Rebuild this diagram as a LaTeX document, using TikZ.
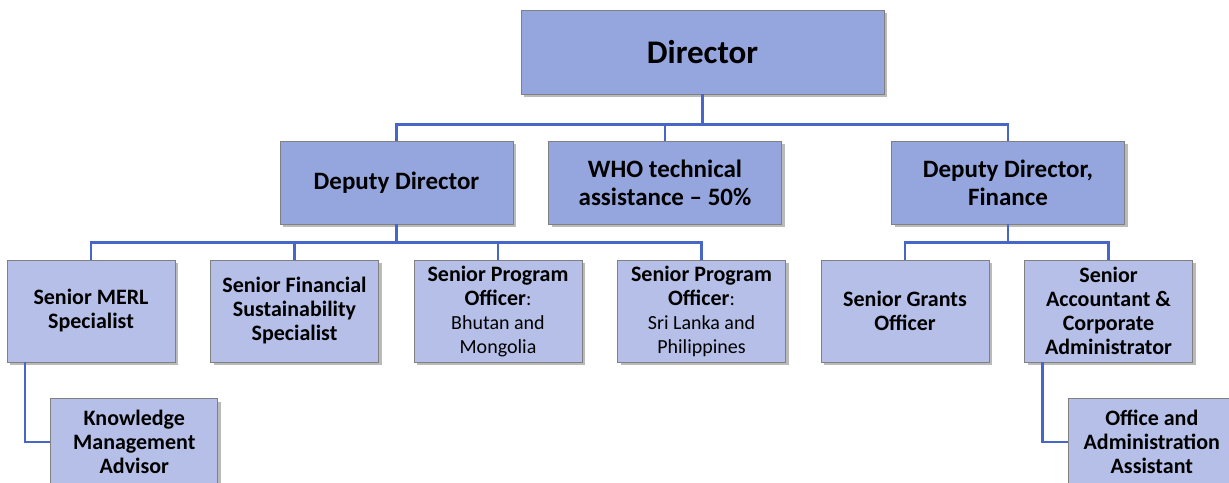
\documentclass[tikz,border=0pt]{standalone}
\usepackage{fontspec}
\setmainfont{Carlito}
\usetikzlibrary{positioning, shadows}
\definecolor{topfill}{RGB}{149,166,222}
\definecolor{lowfill}{RGB}{181,191,232}
\definecolor{linkblue}{RGB}{72,102,200}
\newcommand{\regtext}[1]{{\mdseries\fontsize{20}{23}\selectfont #1}}

\begin{document}
\begin{tikzpicture}[x=1pt, y=-1pt, node distance=34.7pt,
    orgbox/.style={draw=black!50, line width=0.8pt, inner sep=2pt, align=center,
      drop shadow={shadow xshift=3pt, shadow yshift=-3pt, fill=black!45, opacity=.6}},
    topbox/.style={orgbox, fill=topfill, minimum width=233pt, minimum height=83pt,
      font=\fontsize{25}{28}\selectfont\bfseries},
    lowbox/.style={orgbox, fill=lowfill, minimum width=168pt, minimum height=102pt,
      font=\fontsize{22}{24}\selectfont\bfseries},
    link/.style={draw=linkblue, line width=2.5pt}]
  \useasboundingbox (0,0) rectangle (1229,482);

  % top
  \node[topbox, minimum width=363pt, minimum height=84pt, font=\fontsize{33}{36}\selectfont\bfseries]
    (director) at (702.5,52) {Director};

  % second row
  \node[topbox] (dd) at (396.5,182.5) {Deputy Director};
  \node[topbox, right=of dd] (who) {WHO technical\\assistance -- 50\%};
  \node[topbox, right=109.2pt of who] (ddf) {Deputy Director,\\Finance};

  % third row
  \node[lowbox] (merl) at (91,311) {Senior MERL\\Specialist};
  \node[lowbox, right=of merl] (finsust) {Senior Financial\\Sustainability\\Specialist};
  \node[lowbox, right=of finsust] (spobm)
    {Senior Program\\Officer\regtext{:}\\\regtext{Bhutan and}\\\regtext{Mongolia}};
  \node[lowbox, right=of spobm] (sposlp)
    {Senior Program\\Officer\regtext{:}\\\regtext{Sri Lanka and}\\\regtext{Philippines}};
  \node[lowbox, right=of sposlp] (grants) {Senior Grants\\Officer};
  \node[lowbox, right=of grants] (acct) {Senior\\Accountant \&\\Corporate\\Administrator};

  % fourth row
  \node[lowbox, minimum width=167pt, minimum height=86pt, below right=36pt and -125pt of merl]
    (kma) {Knowledge\\Management\\Advisor};
  \node[lowbox, minimum width=167pt, minimum height=86pt, below right=36pt and -125pt of acct]
    (office) {Office and\\Administration\\Assistant};

  \foreach \n in {dd, who, ddf}
    \draw[link] (director.south) -- ++(0,30) -| (\n.north);
  \foreach \n in {merl, finsust, spobm, sposlp}
    \draw[link] (dd.south) -- ++(0,18) -| (\n.north);
  \foreach \n in {grants, acct}
    \draw[link] (ddf.south) -- ++(0,18) -| (\n.north);
  \draw[link] ([xshift=-66pt]merl.south) |- (kma.west);
  \draw[link] ([xshift=-66pt]acct.south) |- (office.west);
\end{tikzpicture}
\end{document}
